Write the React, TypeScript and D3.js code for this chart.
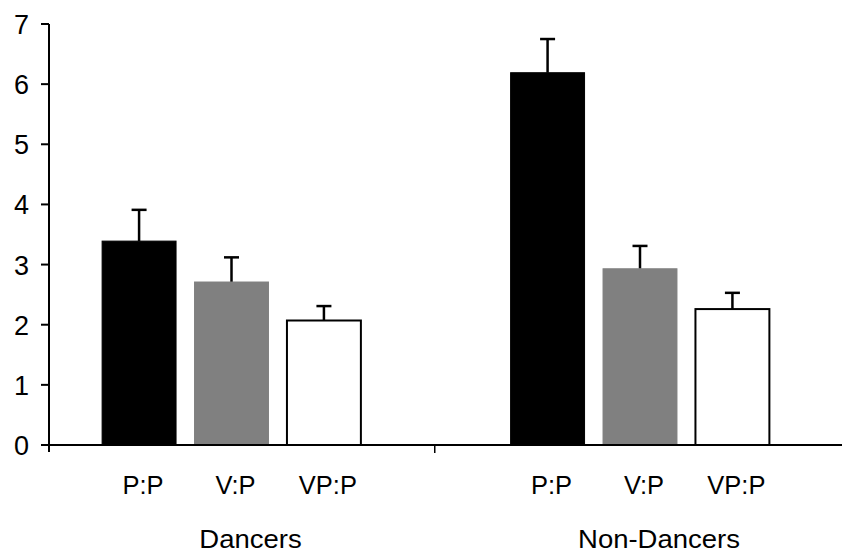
import React from 'react'
import * as d3 from 'd3'

const groups = ['Dancers', 'Non-Dancers']
const conditions = ['P:P', 'V:P', 'VP:P']
const dancerMeans = [3.39, 2.71, 2.07]
const dancerErrors = [0.52, 0.41, 0.24]
const nonDancerMeans = [6.19, 2.93, 2.26]
const nonDancerErrors = [0.56, 0.38, 0.27]
const yTicks = [0, 1, 2, 3, 4, 5, 6, 7]
const fills = ['#000000', '#808080', '#ffffff']

const W = 842
const H = 555
const FONT = 'Liberation Sans, Arial, sans-serif'

const App = () => {
  const axisX = 49
  const x0 = d3.scaleBand().domain(groups).range([27.25, 844.25])
  const x1 = d3
    .scaleBand()
    .domain(conditions)
    .range([0, x0.bandwidth()])
    .paddingInner(0.2)
    .paddingOuter(0.81)
  const y = d3.scaleLinear().domain([0, 7]).range([445, 24])

  const rows = groups.map((g, gi) => ({
    group: g,
    means: gi === 0 ? dancerMeans : nonDancerMeans,
    errors: gi === 0 ? dancerErrors : nonDancerErrors,
  }))

  const capHalf = 7.5

  return (
    <svg width={W} height={H} style={{ position: 'absolute', left: 0, top: 0, background: '#fff' }}>
      {/* bars */}
      {rows.map((r) =>
        conditions.map((c, i) => {
          const bx = (x0(r.group) as number) + (x1(c) as number)
          const bw = x1.bandwidth()
          const cx = bx + bw / 2
          const top = y(r.means[i])
          const errTop = y(r.means[i] + r.errors[i])
          return (
            <g key={r.group + c}>
              <line x1={cx} x2={cx} y1={top} y2={errTop} stroke="#000" strokeWidth={2.5} />
              <line x1={cx - capHalf} x2={cx + capHalf} y1={errTop} y2={errTop} stroke="#000" strokeWidth={2.5} />
              <rect
                x={bx}
                y={top}
                width={bw}
                height={y(0) - top}
                fill={fills[i]}
                stroke={i === 2 ? '#000' : fills[i]}
                strokeWidth={i === 2 ? 2 : 1}
              />
            </g>
          )
        })
      )}

      {/* y axis */}
      <line x1={axisX} x2={axisX} y1={y(7)} y2={452} stroke="#000" strokeWidth={2} />
      {yTicks.map((t) => (
        <g key={t}>
          <line x1={axisX - 8} x2={axisX} y1={y(t)} y2={y(t)} stroke="#000" strokeWidth={2} />
          <text x={29} y={y(t) + 10} textAnchor="end" fontFamily={FONT} fontSize={27} fill="#000">
            {t}
          </text>
        </g>
      ))}

      {/* x axis */}
      <line x1={axisX} x2={W} y1={y(0)} y2={y(0)} stroke="#000" strokeWidth={2} />
      <line
        x1={(x0('Non-Dancers') as number) - 1}
        x2={(x0('Non-Dancers') as number) - 1}
        y1={y(0)}
        y2={y(0) + 8}
        stroke="#000"
        strokeWidth={1.5}
      />

      {/* condition labels */}
      {rows.map((r) =>
        conditions.map((c) => {
          const cx = (x0(r.group) as number) + (x1(c) as number) + x1.bandwidth() / 2
          return (
            <text
              key={'l' + r.group + c}
              x={cx + 4}
              y={494}
              textAnchor="middle"
              fontFamily={FONT}
              fontSize={25.5}
              fill="#000"
            >
              {c}
            </text>
          )
        })
      )}

      {/* group labels */}
      {groups.map((g) => (
        <text
          key={'g' + g}
          transform={`translate(${(x0(g) as number) + x0.bandwidth() / 2 + 19},548) scale(1.1,1)`}
          textAnchor="middle"
          fontFamily={FONT}
          fontSize={25}
          fill="#000"
        >
          {g}
        </text>
      ))}
    </svg>
  )
}

export default App
